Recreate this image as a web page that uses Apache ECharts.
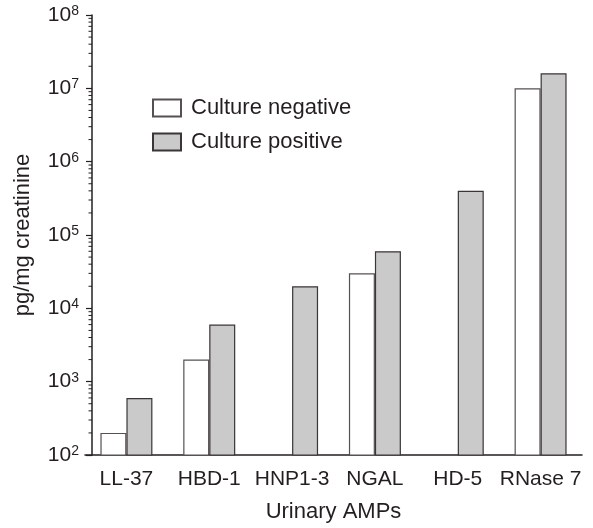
<!DOCTYPE html>
<html>
<head>
<meta charset="utf-8">
<script src="https://cdn.jsdelivr.net/npm/echarts@6/dist/echarts.min.js"></script>
<style>
  html, body { margin: 0; padding: 0; background: #fff; }
  #chart { width: 593px; height: 528px; }
</style>
</head>
<body>
<div id="chart"></div>
<script>
const categories = ['LL-37', 'HBD-1', 'HNP1-3', 'NGAL', 'HD-5', 'RNase 7'];
const cultureNegative = [200, 2000, null, 30000, null, 10000000];
const culturePositive = [600, 6000, 20000, 60000, 400000, 16000000];
const decades = [2, 3, 4, 5, 6, 7];
const minorSteps = [2, 3, 4, 5, 6, 7, 8, 9];

// minor ticks of the log axis: 2..9 x 10^k
let minorTicks = [];
decades.forEach(function (k) {
    minorSteps.forEach(function (m) {
        minorTicks.push([categories[0], m * Math.pow(10, k)]);
    });
});

let myChart = echarts.init(document.getElementById('chart'));
const ink = '#231f20';
const font = 'Liberation Sans, Arial, Helvetica, sans-serif';
const axisShift = 7;

let option = {
    backgroundColor: '#fff',
    animation: false,
    textStyle: { fontFamily: font, color: ink },
    grid: { left: 85, right: 11, top: 15, bottom: 71 },
    legend: {
        orient: 'vertical',
        left: 147,
        top: 92,
        icon: 'rect',
        itemWidth: 28,
        itemHeight: 17,
        itemGap: 12,
        textStyle: { fontSize: 22, color: ink, fontFamily: font, padding: [0, 0, 0, 5] },
        data: ['Culture negative', 'Culture positive']
    },
    xAxis: {
        type: 'category',
        data: categories,
        name: 'Urinary AMPs',
        nameLocation: 'middle',
        nameGap: 46,
        nameTextStyle: { fontSize: 22, color: ink },
        axisLine: { lineStyle: { color: ink, width: 1.5 } },
        axisTick: { alignWithLabel: true, length: 8, lineStyle: { color: ink, width: 1.2 } },
        axisLabel: { fontSize: 21, color: ink, margin: 14, interval: 0 }
    },
    yAxis: {
        type: 'log',
        logBase: 10,
        min: 100,
        max: 100000000,
        offset: -axisShift,
        name: 'pg/mg creatinine',
        nameLocation: 'middle',
        nameGap: 58,
        nameTextStyle: { fontSize: 22, color: ink },
        splitLine: { show: false },
        axisLine: { show: true, lineStyle: { color: ink, width: 1.5 } },
        axisTick: { show: true, length: 6, lineStyle: { color: ink, width: 1.2 } },
        axisLabel: {
            margin: 13,
            formatter: function (v) {
                let e = Math.round(Math.log10(v));
                return '10{s|' + e + '}';
            },
            rich: {
                s: { fontSize: 14, color: ink, verticalAlign: 'top', padding: [0, 0, 8, 0] }
            },
            fontSize: 21,
            color: ink
        }
    },
    series: [{
        name: 'Culture negative',
        type: 'bar',
        data: cultureNegative,
        barWidth: 26,
        barGap: '0%',
        itemStyle: { color: '#ffffff', borderColor: '#555152', borderWidth: 1.2 }
    }, {
        name: 'Culture positive',
        type: 'bar',
        data: culturePositive,
        barWidth: 26,
        itemStyle: { color: '#c9cac9', borderColor: '#3a3536', borderWidth: 1.2 }
    }, {
        type: 'custom',
        silent: true,
        clip: false,
        data: minorTicks,
        renderItem: function (params, api) {
            let y = api.coord([api.value(0), api.value(1)])[1];
            let x = params.coordSys.x + axisShift;
            return {
                type: 'line',
                shape: { x1: x - 3.5, y1: y, x2: x, y2: y },
                style: { stroke: ink, lineWidth: 1 }
            };
        }
    }]
};

myChart.setOption(option);
</script>
</body>
</html>
